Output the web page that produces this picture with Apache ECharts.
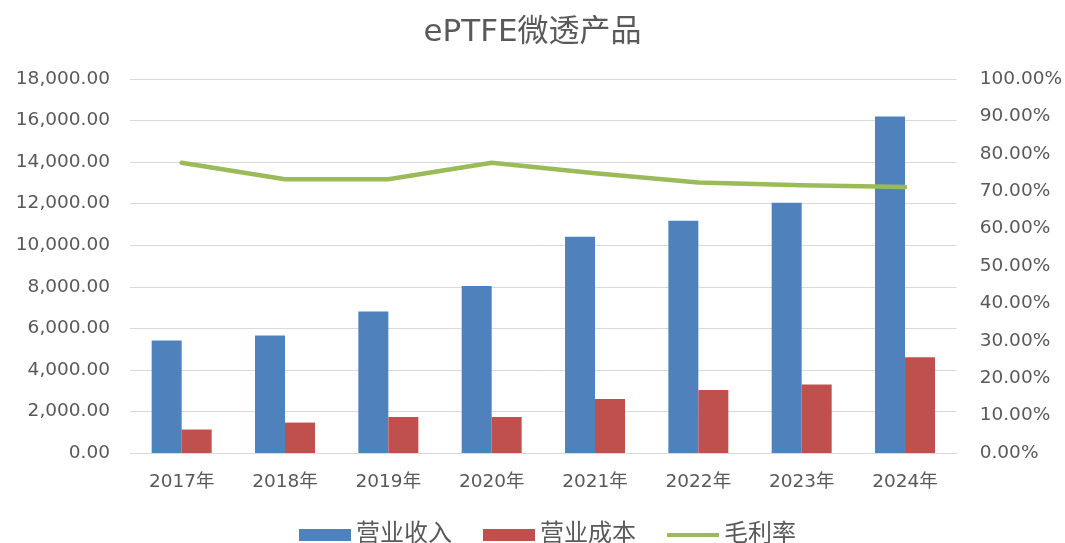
<!DOCTYPE html>
<html>
<head>
<meta charset="utf-8">
<script src="https://cdn.jsdelivr.net/npm/echarts@6/dist/echarts.min.js"></script>
<style>
  html, body { margin: 0; padding: 0; background: #fff; }
  #chart { width: 1065px; height: 543px; }
</style>
</head>
<body>
<div id="chart"></div>
<script>
// 数据
var years = ['2017年', '2018年', '2019年', '2020年', '2021年', '2022年', '2023年', '2024年'];
var revenue = [5420, 5660, 6815, 8035, 10410, 11180, 12050, 16190];
var cost = [1130, 1465, 1735, 1735, 2600, 3035, 3295, 4610];
var margin = [77.6, 73.2, 73.2, 77.6, 74.8, 72.3, 71.6, 71.1];

var chart = echarts.init(document.getElementById('chart'));
var font = '"DejaVu Sans", "Noto Sans CJK SC", sans-serif';
var grey = '#595959';

var option = {
    animation: false,
    title: {
        text: 'ePTFE微透产品',
        left: 'center',
        top: 12,
        textStyle: { fontFamily: font, fontSize: 31, fontWeight: 'normal', color: grey }
    },
    legend: {
        top: 518,
        left: 294,
        itemGap: 31,
        itemWidth: 52,
        itemHeight: 12,
        textStyle: { fontFamily: font, fontSize: 24, color: grey },
        data: [
            { name: '营业收入', icon: 'rect' },
            { name: '营业成本', icon: 'rect' },
            { name: '毛利率', icon: 'path://M0,0 L52,0 L52,4 L0,4 Z' }
        ]
    },
    grid: { left: 130, right: 108, top: 79, bottom: 90 },
    xAxis: {
        type: 'category',
        data: years,
        axisLine: { lineStyle: { color: '#d9d9d9' } },
        axisTick: { show: false },
        axisLabel: { fontFamily: font, fontSize: 18.5, color: grey, margin: 20 }
    },
    yAxis: [
        {
            type: 'value',
            min: 0, max: 18000, interval: 2000,
            axisLine: { show: false },
            axisTick: { show: false },
            splitLine: { lineStyle: { color: '#d9d9d9', width: 1 } },
            axisLabel: {
                fontFamily: font, fontSize: 18.5, color: grey, margin: 20,
                formatter: function (v) {
                    return v.toLocaleString('en-US', { minimumFractionDigits: 2, maximumFractionDigits: 2 });
                }
            }
        },
        {
            type: 'value',
            min: 0, max: 100, interval: 10,
            axisLine: { show: false },
            axisTick: { show: false },
            splitLine: { show: false },
            axisLabel: {
                fontFamily: font, fontSize: 18.5, color: grey, margin: 23,
                formatter: function (v) { return v.toFixed(2) + '%'; }
            }
        }
    ],
    series: [
        {
            name: '营业收入',
            type: 'bar',
            data: revenue,
            barWidth: 30,
            barGap: '0%',
            itemStyle: { color: '#4F81BD' }
        },
        {
            name: '营业成本',
            type: 'bar',
            data: cost,
            barWidth: 30,
            itemStyle: { color: '#C0504D' }
        },
        {
            name: '毛利率',
            type: 'line',
            yAxisIndex: 1,
            data: margin,
            symbol: 'none',
            lineStyle: { color: '#9BBB59', width: 4.5, join: 'round', cap: 'round' },
            itemStyle: { color: '#9BBB59' }
        }
    ]
};
chart.setOption(option);
window.onresize = function () {
    chart.resize();
};
</script>
</body>
</html>
